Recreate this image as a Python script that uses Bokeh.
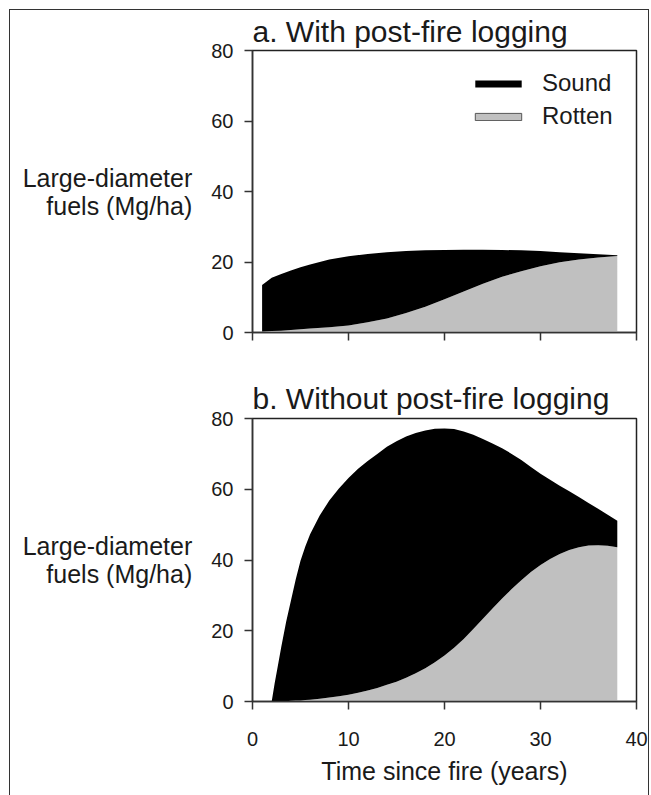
from bokeh.plotting import figure
from bokeh.layouts import column
from bokeh.models import Range1d, FixedTicker, Legend, LegendItem
from bokeh.embed import file_html
from bokeh.resources import INLINE

# ---------------- data ----------------
# Panel a: with post-fire logging
t_a = [1, 2, 3, 4, 5, 6, 8, 10, 12, 14, 16, 18, 20, 22, 24, 26, 28, 30, 32, 34, 36, 38]
total_a = [13.5, 15.5, 16.6, 17.6, 18.5, 19.3, 20.7, 21.6, 22.3, 22.8, 23.1, 23.3, 23.4,
           23.5, 23.5, 23.4, 23.3, 23.1, 22.8, 22.5, 22.2, 21.9]
rotten_a = [0.3, 0.4, 0.5, 0.7, 0.9, 1.1, 1.5, 2.0, 2.9, 4.0, 5.5, 7.3, 9.4, 11.6, 13.8,
            15.8, 17.4, 18.8, 19.9, 20.7, 21.3, 21.7]

# Panel b: without post-fire logging
t_b = [2, 2.3, 2.6, 3, 3.5, 4, 4.5, 5, 5.5, 6, 7, 8, 9, 10, 11, 12, 13, 14, 15, 16, 17,
       18, 19, 20, 21, 22, 23, 24, 25, 26, 27, 28, 29, 30, 31, 32, 33, 34, 35, 36, 37, 38]
total_b = [0, 5, 9.5, 15.5, 22.5, 28.5, 34.5, 39.8, 43.8, 47.3, 52.6, 56.8, 60.2, 63.2, 65.8,
           68, 70, 72, 73.6, 74.9, 75.9, 76.6, 77.1, 77.2, 77, 76.3, 75.4, 74.2, 72.9, 71.6,
           70, 68.3, 66.3, 64.4, 62.7, 61, 59.4, 57.8, 56.1, 54.5, 52.8, 51.1]
rotten_b = [0, 0.01, 0.02, 0.05, 0.1, 0.2, 0.25, 0.3, 0.4, 0.5, 0.8, 1.1, 1.5, 1.9, 2.5,
            3.1, 3.8, 4.7, 5.6, 6.7, 8.0, 9.4, 11.1, 13.0, 15.2, 17.7, 20.5, 23.4, 26.3,
            29.1, 31.8, 34.3, 36.6, 38.6, 40.3, 41.7, 42.8, 43.6, 44.1, 44.2, 44.0, 43.6]

x_ticks = [0, 10, 20, 30, 40]
y_ticks = [0, 20, 40, 60, 80]
series_names = ["Sound", "Rotten"]
titles = ["a. With post-fire logging", "b. Without post-fire logging"]
y_label = "Large-diameter\nfuels (Mg/ha)"
x_label = "Time since fire (years)"

FONT = "Liberation Sans"
INK = "#1a1a1a"
GRAY = "#c0c0c0"


def make_panel(t, total, rotten, title, height, top, bottom, standoff, show_x, legend):
    p = figure(width=638, height=height, output_backend="svg", toolbar_location=None,
               x_range=Range1d(0, 40), y_range=Range1d(0, 80),
               min_border_left=242, min_border_right=12,
               min_border_top=top, min_border_bottom=bottom)
    p.grid.visible = False
    p.background_fill_color = "white"
    p.border_fill_color = "white"
    p.outline_line_color = "#222222"
    p.outline_line_width = 1.5

    r_rot = p.varea(x=t, y1=[0] * len(t), y2=rotten, fill_color=GRAY)
    r_snd = p.varea(x=t, y1=rotten, y2=total, fill_color="black")

    # title
    p.title.text = title
    p.title.text_font = FONT
    p.title.text_font_size = "30px"
    p.title.text_font_style = "normal"
    p.title.text_color = INK
    p.title.align = "left"
    p.title.standoff = standoff

    # axes
    for ax in (p.xaxis[0], p.yaxis[0]):
        ax.axis_line_color = "#333333"
        ax.axis_line_width = 1.5
        ax.major_tick_line_color = "#333333"
        ax.major_tick_line_width = 1.5
        ax.major_tick_out = 8
        ax.major_tick_in = 0
        ax.minor_tick_line_color = None
        ax.major_label_text_font = FONT
        ax.major_label_text_font_size = "20px"
        ax.major_label_text_color = INK
        ax.axis_label_text_font = FONT
        ax.axis_label_text_font_size = "25px"
        ax.axis_label_text_font_style = "normal"
        ax.axis_label_text_color = INK

    p.xaxis.ticker = FixedTicker(ticks=x_ticks)
    p.yaxis.ticker = FixedTicker(ticks=y_ticks)
    p.yaxis.major_label_standoff = 11
    p.yaxis.axis_label = y_label
    p.yaxis.axis_label_orientation = "horizontal"
    p.yaxis.axis_label_text_align = "center"
    p.yaxis.axis_label_text_line_height = 1.0
    p.yaxis.axis_label_standoff = 16

    if show_x:
        p.xaxis.major_label_standoff = 22
        p.xaxis.axis_label = x_label
        p.xaxis.axis_label_standoff = 8
    else:
        p.xaxis.major_label_overrides = {v: "" for v in x_ticks}

    if legend:
        sound_item = LegendItem(label=series_names[0], renderers=[r_snd])
        rot_proxy = p.patch(x=t + [t[-1], t[0]], y=rotten + [0, 0], fill_color=GRAY,
                            line_color="#555555", line_width=1, visible=False)
        rot_item = LegendItem(label=series_names[1], renderers=[rot_proxy])
        lg = Legend(items=[sound_item, rot_item], location="top_right")
        lg.border_line_color = None
        lg.background_fill_alpha = 0
        lg.inactive_fill_alpha = 0
        lg.label_text_font = FONT
        lg.label_text_font_size = "24px"
        lg.label_text_color = INK
        lg.glyph_width = 58
        lg.glyph_height = 9
        lg.label_standoff = 15
        lg.label_width = 75
        lg.spacing = 5
        lg.margin = 19
        lg.padding = 12
        lg.label_height = 26
        p.add_layout(lg)
    return p


pa = make_panel(t_a, total_a, rotten_a, titles[0], 360, 40, 38, 5, False, True)
pb = make_panel(t_b, total_b, rotten_b, titles[1], 425, 48, 94, 8, True, False)

layout = column(pa, pb, spacing=0,
                styles={"margin-left": "9px", "margin-top": "9px",
                        "border-left": "1px solid #333", "border-top": "1px solid #333",
                        "border-right": "1px solid #333"})

open("out.html", "w").write(file_html(layout, INLINE))
